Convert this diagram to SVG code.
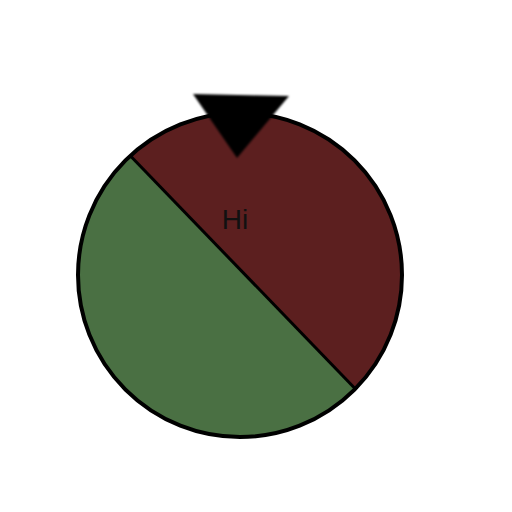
<svg xmlns="http://www.w3.org/2000/svg" width="512" height="512" viewBox="0 0 512 512">
<defs>
<filter id="blur" x="-20%" y="-20%" width="140%" height="140%"><feGaussianBlur stdDeviation="1.2"/></filter>
</defs>
<style>
.seg{stroke:none}
.t{font-family:"Liberation Sans",Arial,sans-serif;font-size:28px;fill:#111}
</style>
<rect width="512" height="512" fill="#fff"/>
<g id="wheel">
<circle cx="240" cy="275" r="162" fill="#4a7043"/>
<path class="seg" d="M130.3,155.8 A162,162 0 0 1 355.2,388.8 Z" fill="#5c1f1f"/>
<circle cx="240" cy="275" r="162" fill="none" stroke="#000" stroke-width="4"/>
</g>
<g id="connectors">
<line x1="130.3" y1="155.8" x2="355.2" y2="388.8" stroke="#000" stroke-width="3"/>
</g>
<g id="label"><text class="t" x="235" y="229" text-anchor="middle">Hi</text></g>
<g id="pointer"><polygon points="193,94 289,96 237,158" fill="#000" filter="url(#blur)"/></g>
</svg>
